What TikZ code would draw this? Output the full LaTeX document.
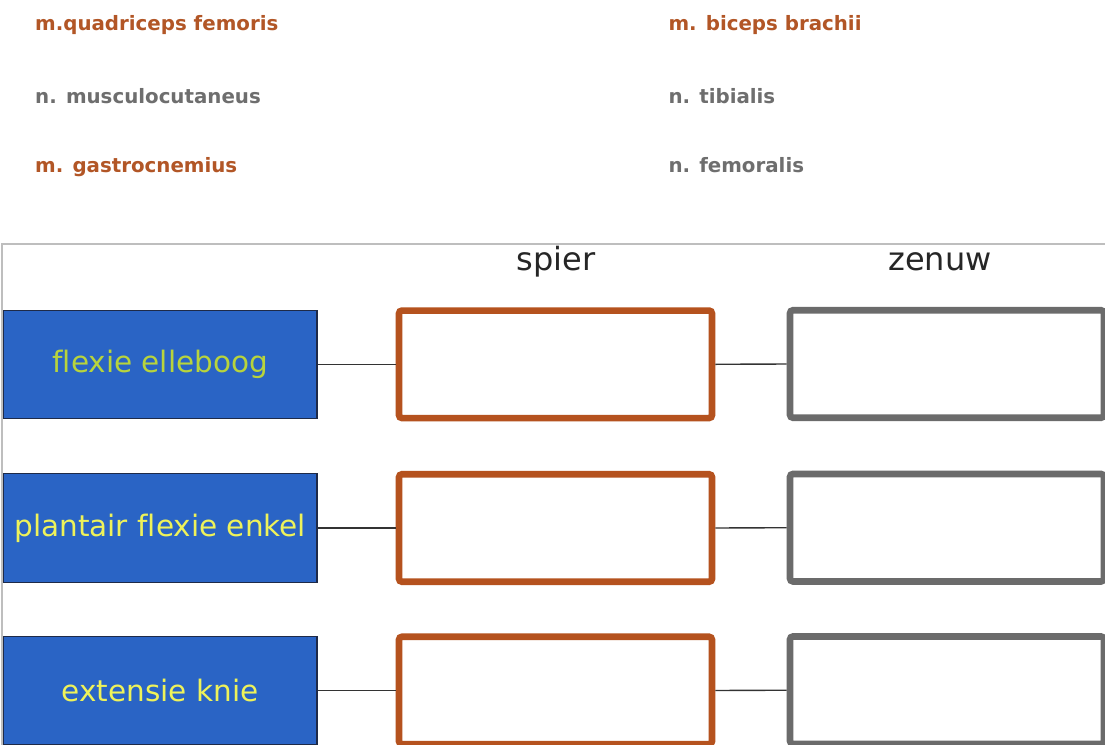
\documentclass[tikz,border=0pt]{standalone}
\usepackage{fontspec}
\setmainfont[Ligatures=NoCommon]{DejaVu Sans}
\definecolor{musc}{HTML}{B25626}
\definecolor{nerv}{HTML}{6E6E6E}
\definecolor{boxblue}{HTML}{2A64C5}
\definecolor{boxedge}{HTML}{1E2A48}
\definecolor{txtgreen}{HTML}{B8D43C}
\definecolor{txtyellow}{HTML}{EEF25A}
\definecolor{orbox}{HTML}{B5521E}
\definecolor{grbox}{HTML}{6B6B6B}
\definecolor{frame}{HTML}{BEBEBE}
\tikzset{
  toplabel/.style={anchor=base west, inner sep=0pt, font=\fontsize{19.8}{24}\selectfont\bfseries},
  musclab/.style={toplabel, text=musc},
  nervlab/.style={toplabel, text=nerv},
  colhead/.style={anchor=base, inner sep=0pt, text=black!85, font=\fontsize{32}{38}\selectfont},
  actbox/.style={draw=boxedge, line width=1.1pt, fill=boxblue, minimum width=313.5pt, minimum height=108.5pt, inner sep=0pt, font=\fontsize{29.5}{34}\selectfont},
  spierbox/.style={draw=orbox, line width=6.6pt, rounded corners=3pt, fill=white, minimum width=313pt, minimum height=107.5pt, inner sep=0pt},
  zenuwbox/.style={draw=grbox, line width=6.6pt, rounded corners=3pt, fill=white, minimum width=314pt, minimum height=107.5pt, inner sep=0pt},
  link/.style={draw=black!80, line width=1.4pt}
}
\begin{document}
\begin{tikzpicture}[x=1pt,y=-1pt]
\clip (0,0) rectangle (1105,744);
\fill[white] (0,0) rectangle (1105,744);
% word list
\node[musclab] (l1) at (35,30) {m.quadriceps femoris};
\node[nervlab] (l2) at (35,103.5) {n. musculocutaneus};
\node[musclab] (l3) at (35,172.7) {m. gastrocnemius};
\node[musclab] (r1) at (668.3,30) {m. biceps brachii};
\node[nervlab] (r2) at (668.3,103.5) {n. tibialis};
\node[nervlab] (r3) at (668.3,172.7) {n. femoralis};
% frame
\draw[frame, line width=1.3pt] (2,745) -- (2,244) -- (1106,244);
% column headers
\node[colhead] (hs) at (556,270) {spier};
\node[colhead] (hz) at (940,270.5) {zenuw};
% rows
\node[actbox, text=txtgreen] (a1) at (160.25,364.3) {flexie elleboog};
\node[actbox, text=txtyellow] (a2) at (160.25,528) {plantair flexie enkel};
\node[actbox, text=txtyellow] (a3) at (160.25,690.5) {extensie knie};
\node[spierbox] (s1) at (555.5,364.3) {};
\node[spierbox] (s2) at (555.5,528) {};
\node[spierbox] (s3) at (555.5,690.5) {};
\node[zenuwbox] (z1) at (947,364) {};
\node[zenuwbox] (z2) at (947,527.7) {};
\node[zenuwbox] (z3) at (947,690.2) {};
\foreach \i in {1,2,3}{
  \draw[link] (a\i.east) -- (s\i.west);
  \draw[link] (s\i.east) -- (z\i.west);
}
\end{tikzpicture}
\end{document}
